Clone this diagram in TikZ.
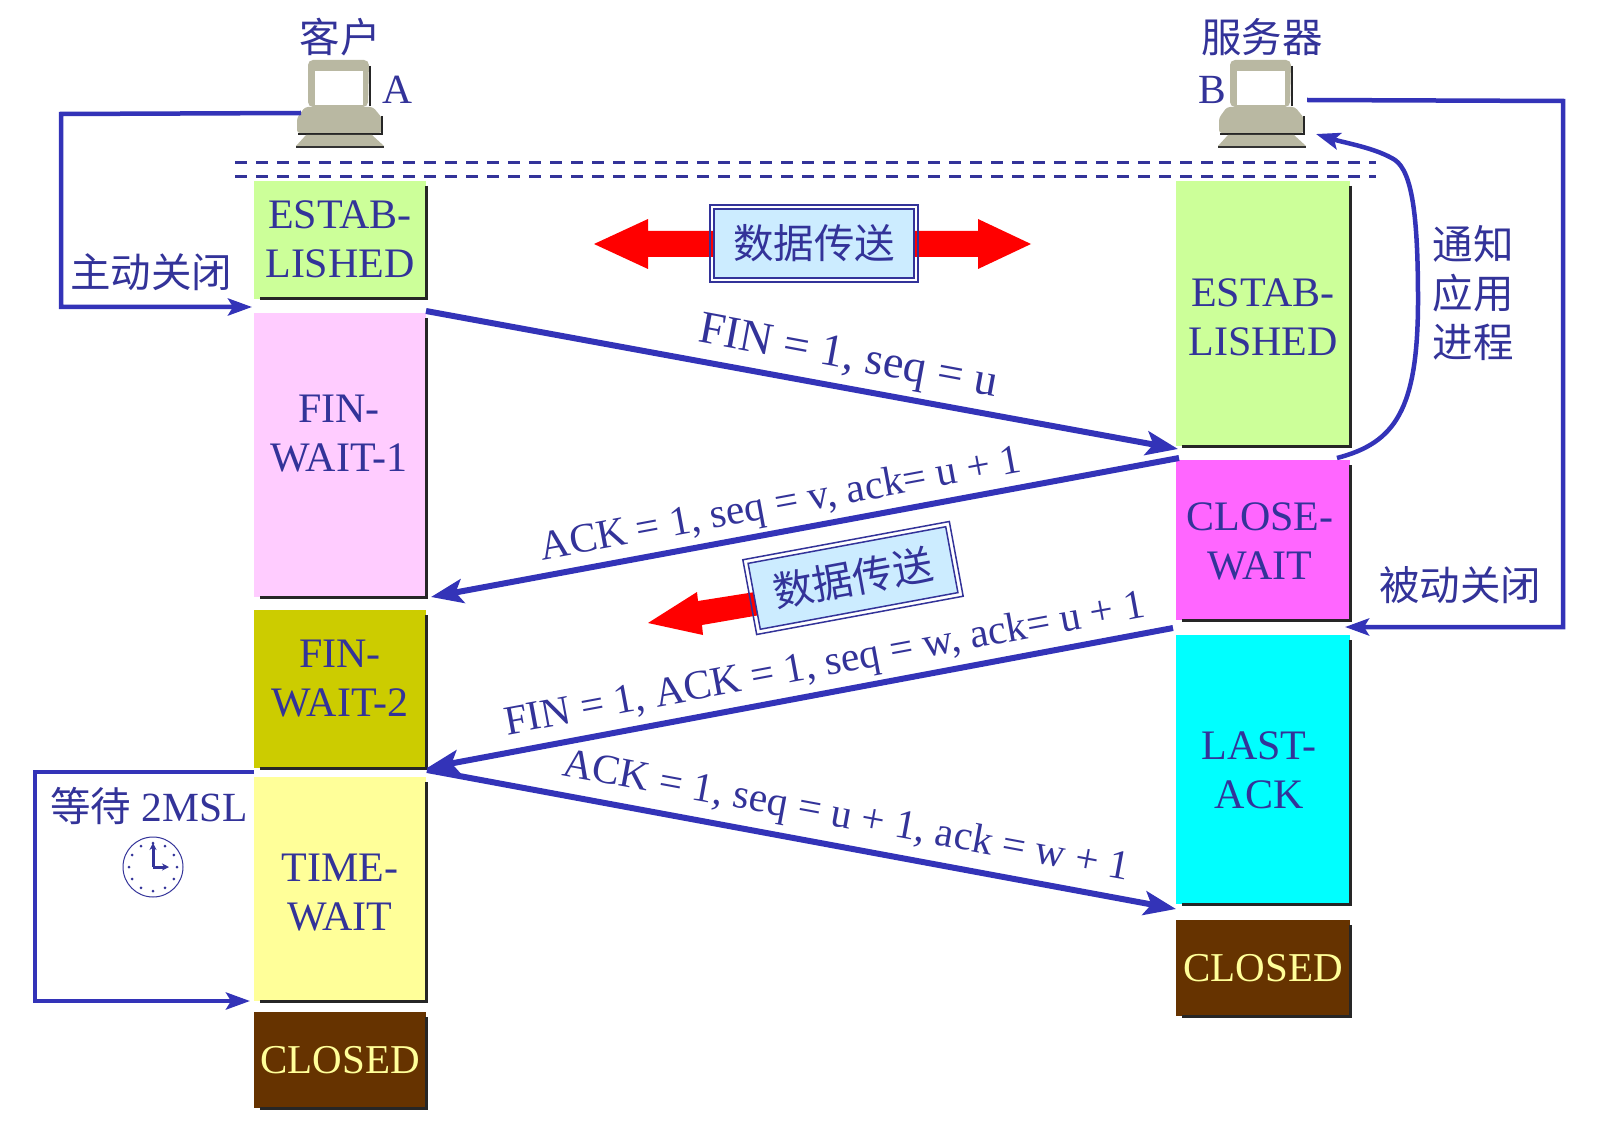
\documentclass[tikz,border=0pt]{standalone}
\usepackage{fontspec}
\setmainfont{Liberation Serif}
\newfontfamily\cjk{Noto Sans CJK SC}
\usetikzlibrary{arrows.meta,calc}
\definecolor{ink}{HTML}{333399}
\definecolor{wire}{HTML}{3333B8}
\definecolor{grayb}{HTML}{B9B8A2}
\definecolor{boxblue}{HTML}{CCECFF}
\definecolor{cEst}{HTML}{CCFF99}
\definecolor{cFa}{HTML}{FFCCFF}
\definecolor{cFb}{HTML}{CCCC00}
\definecolor{cTw}{HTML}{FFFF99}
\definecolor{cCl}{HTML}{663300}
\definecolor{cCw}{HTML}{FF66FF}
\definecolor{cLa}{HTML}{00FFFF}
\definecolor{cTxt}{HTML}{FFFF99}
\newcommand{\fz}{\fontsize{42}{49}\selectfont}
\newcommand{\fs}{\fontsize{41.5}{49}\selectfont}
\newcommand{\fc}{\fontsize{40.5}{49}\selectfont\cjk}
\tikzset{
  x=1pt,y=-1pt,
  every node/.style={inner sep=0pt,outer sep=0pt},
  statebox/.style={rectangle},
  statetext/.style={align=center,text=ink,font=\fz},
  edgeshade/.style={line width=3pt,draw=black!85},
  label/.style={text=ink,font=\fs,align=center},
  cjklabel/.style={text=ink,font=\fc,align=center},
  thickarrow/.style={draw=wire,line width=6pt,-{Stealth[length=32pt,width=24pt,inset=7pt]}},
  thinarrow/.style={draw=wire,line width=4.5pt,-{Stealth[length=24pt,width=17pt,inset=5pt]}},
  redarrow/.style={fill=red,draw=none},
  databox/.style={rectangle,fill=boxblue,text=ink,font=\fc,draw=ink,line width=1.5pt},
  busline/.style={draw=ink,line width=3pt,dash pattern=on 12pt off 9pt},
}
% name, cx, cy, w, h, fill, text-dx, text-dy, text
\newcommand{\statenode}[9]{%
  \node[statebox,fill=#6,minimum width=#4,minimum height=#5] (#1) at (#2,#3) {};
  \draw[edgeshade] ($(#1.north east)+(0,-5pt)$) -- (#1.south east) -- ($(#1.south west)+(6pt,0)$);
  \node[statetext] (#1t) at ($(#1.center)+(#7pt,#8pt)$) {#9};
}
\newcommand{\computer}[2]{%
  \begin{scope}[shift={(#1,#2)}]
    \draw[line width=2.5pt,black!85] (370,66) -- (370,106);
    \fill[grayb,rounded corners=5pt] (308,107) -- (308,60) -- (369,60) -- (368,107) -- cycle;
    \fill[white] (315,71) rectangle (363,105);
    \fill[grayb,rounded corners=3pt] (297,133) -- (297,118) -- (305,107) -- (373,107) -- (382,118) -- (382,133) -- cycle;
    \draw[line width=2.5pt,black!85] (298,134) -- (382,134) -- (382,116);
    \fill[grayb] (296,146) -- (306,135) -- (372,135) -- (384,146) -- cycle;
    \draw[line width=1.5pt,black!80] (296,147) -- (384,147);
  \end{scope}%
}
\begin{document}
\begin{tikzpicture}
\useasboundingbox (0,0) rectangle (1600,1139);
\fill[white] (0,0) rectangle (1600,1139);
% computers
\computer{0}{0}
\computer{922}{0}
\coordinate (pcA) at (301,113);
\coordinate (pcB) at (1307,100);
\coordinate (pcBin) at (1316,134);
\node[cjklabel] (client) at (340,37) {客户};
\node[cjklabel] (server) at (1262,37) {服务器};
\node[label] (labA) at (397,90) {A};
\node[label] (labB) at (1212,90) {B};
% bus
\coordinate (busL1) at (235,163); \coordinate (busR1) at (1376,163);
\coordinate (busL2) at (235,177); \coordinate (busR2) at (1376,177);
\draw[busline] (busL1) -- (busR1);
\draw[busline] (busL2) -- (busR2);
% left states
\statenode{aest}{340}{240}{172}{118}{cEst}{0}{1}{ESTAB-\\LISHED}
\statenode{afw1}{340}{455}{172}{284}{cFa}{-1}{21}{FIN-\\WAIT-1}
\statenode{afw2}{340}{689}{172}{158}{cFb}{0}{10}{FIN-\\WAIT-2}
\statenode{atw}{340}{889}{172}{224}{cTw}{0}{-4}{TIME-\\WAIT}
\statenode{acl}{340}{1060}{172}{96}{cCl}{0}{0}{\fontsize{41}{49}\selectfont\textcolor{cTxt}{CLOSED}}
% right states
\statenode{best}{1263}{313.5}{174}{265}{cEst}{0}{-4}{ESTAB-\\LISHED}
\statenode{bcw}{1263}{540}{174}{160}{cCw}{-3}{-1}{CLOSE-\\WAIT}
\statenode{bla}{1263}{769.5}{174}{269}{cLa}{-4}{-1}{LAST-\\ACK}
\statenode{bcl}{1263}{968}{174}{96}{cCl}{0}{0}{\fontsize{41}{49}\selectfont\textcolor{cTxt}{CLOSED}}
% main exchange
\coordinate (p1) at (426,311);
\coordinate (p2) at (1178,449);
\coordinate (p3) at (1179,458);
\coordinate (p4) at (431,597);
\coordinate (p5) at (1173,628);
\coordinate (p6) at (427,768);
\coordinate (p7) at (427,770);
\coordinate (p8) at (1176,909);
\draw[thickarrow] (p1) -- (p2);
\draw[thickarrow] (p3) -- (p4);
\draw[thickarrow] (p5) -- (p6);
\draw[thickarrow] (p7) -- (p8);
\node[label,rotate=-10.5,font=\fontsize{46}{49}\selectfont] (m1) at (848,359) {FIN = 1, seq = u};
\node[label,rotate=10.5] (m2) at (781,506) {ACK = 1, seq = v, ack= u + 1};
\node[label,rotate=10.5] (m3) at (825,666) {FIN = 1, ACK = 1, seq = w, ack= u + 1};
\node[label,rotate=-10.5] (m4) at (846,818) {ACK = 1, seq = u + 1, ack = w + 1};
% side connectors
\coordinate (aclose) at (252,307);
\coordinate (bclose) at (1345,627);
\coordinate (twin) at (250,1001);
\coordinate (twout) at (254,772);
\draw[thinarrow] (pcA) -- (61,114) -- (61,307) -- (aclose);
\draw[thinarrow] (pcB) -- (1563,101) -- (1563,627) -- (bclose);
\draw[thinarrow] (twout) -- (35,772) -- (35,1001) -- (twin);
\coordinate (notify) at (1337,458);
\draw[thinarrow] (notify) .. controls (1395,443) and (1418,410) .. (1418,300) .. controls (1418,215) and (1412,172) .. (1395,160) .. controls (1376,148) and (1345,143) .. (pcBin);
\node[cjklabel] (lc) at (151,272) {主动关闭};
\node[cjklabel] (lp) at (1460,585) {被动关闭};
\node[cjklabel] (ln) at (1473,293) {通知\\应用\\进程};
\node[label,anchor=west] (lw) at (50,806) {{\fc 等待} 2MSL};
% clock
\coordinate (clk) at (153,867);
\draw[ink,line width=1pt] (clk) circle (30pt);
\foreach \a in {0,30,...,330}{\fill[ink] ($(clk)+(\a:24pt)$) circle (1.5pt);}
\draw[ink,line width=3pt,-{Stealth[length=7pt,width=7pt]}] (clk) -- ++(0,-24);
\draw[ink,line width=3pt,-{Stealth[length=7pt,width=7pt]}] (clk) -- ++(16,0);
% upper data transfer
\fill[redarrow] (594,244) -- (648,219) -- (648,231) -- (978,231) -- (978,219) -- (1031,244) -- (978,269) -- (978,257) -- (648,257) -- (648,269) -- cycle;
\node[databox,minimum width=200,minimum height=69] (d1) at (814,243.5) {数据传送};
\draw[ink,line width=1.5pt] ($(d1.north west)+(-4pt,4pt)$) rectangle ($(d1.south east)+(4pt,-4pt)$);
% lower data transfer
\fill[redarrow] (648,623) -- (697,592) -- (698,601) -- (755,592) -- (760,615) -- (702,625) -- (703,635) -- cycle;
\node[databox,minimum width=201,minimum height=67,rotate=10.5] (d2) at (853,578) {数据传送};
\draw[ink,line width=1.5pt,rotate around={10.5:(853,578)}] (748,540) rectangle (958,616);
\end{tikzpicture}
\end{document}
